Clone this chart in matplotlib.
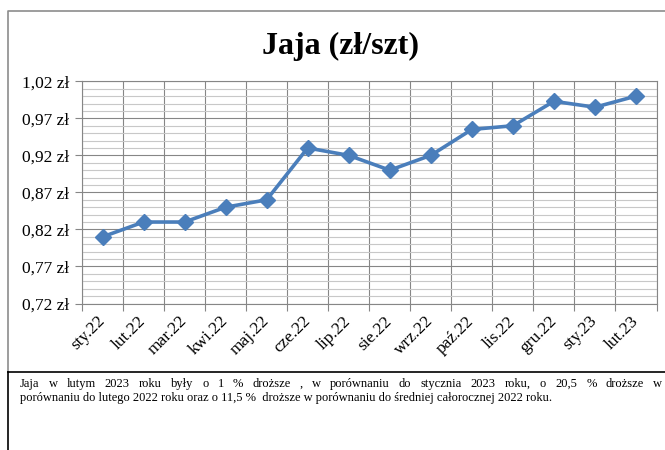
import matplotlib
matplotlib.use("Agg")
import matplotlib.pyplot as plt
from matplotlib.lines import Line2D
from matplotlib.ticker import MultipleLocator, FixedLocator, FuncFormatter

# Data
months = ['sty.22', 'lut.22', 'mar.22', 'kwi.22', 'maj.22', 'cze.22', 'lip.22',
          'sie.22', 'wrz.22', 'paź.22', 'lis.22', 'gru.22', 'sty.23', 'lut.23']
prices = [0.81, 0.83, 0.83, 0.85, 0.86, 0.93, 0.92,
          0.90, 0.92, 0.955, 0.96, 0.993, 0.985, 1.00]
y_ticks = [0.72, 0.77, 0.82, 0.87, 0.92, 0.97, 1.02]

title = 'Jaja (zł/szt)'
note_line1 = ('Jaja w lutym 2023 roku były o 1 % droższe , w porównaniu do stycznia '
              '2023 roku, o 20,5 % droższe w')
note_line2 = ('porównaniu do lutego 2022 roku oraz o 11,5 %  droższe w porównaniu do '
              'średniej całorocznej 2022 roku.')

W, H = 665, 450
plt.rcParams['font.family'] = 'Liberation Serif'

fig = plt.figure(figsize=(W / 100, H / 100), dpi=100)


def fx(px):
    return px / W


def fy(py):
    return 1 - py / H


# plot area
ax = fig.add_axes([fx(82), fy(303.5), fx(656.5) - fx(82), fy(81.3) - fy(303.5)])
x = range(len(months))
ax.plot(x, prices, color='#4A7EBB', lw=2.6, marker='D', ms=8,
        markerfacecolor='#4A7EBB', markeredgecolor='#4A7EBB', zorder=3)

ax.set_xlim(-0.5, len(months) - 0.5)
ax.set_ylim(0.72, 1.02)

# y axis: major every 0.05, light minor every 0.01
ax.yaxis.set_major_locator(FixedLocator(y_ticks))
ax.yaxis.set_minor_locator(MultipleLocator(0.01))
ax.yaxis.set_major_formatter(FuncFormatter(lambda v, p: f'{v:.2f} zł'.replace('.', ',')))
ax.tick_params(axis='y', which='major', length=5, width=0.8, color='#868686',
               pad=4, labelsize=12.5)
ax.tick_params(axis='y', which='minor', length=0)

# x axis: labels at centres, tick marks at category boundaries
ax.set_xticks(list(x))
ax.set_xticklabels(months, rotation=45, ha='right', va='center',
                   rotation_mode='anchor', fontsize=12.5)
ax.xaxis.set_minor_locator(MultipleLocator(1, offset=0.5))
ax.tick_params(axis='x', which='major', length=0, pad=11)
ax.tick_params(axis='x', which='minor', length=5, width=0.8, color='#868686')

ax.grid(True, which='minor', axis='y', color='#C8C8C8', lw=0.8)
ax.grid(True, which='major', axis='y', color='#868686', lw=0.8)
ax.grid(True, which='minor', axis='x', color='#868686', lw=0.8)
ax.set_axisbelow(True)
for s in ax.spines.values():
    s.set_color('#868686')
    s.set_linewidth(0.8)

fig.text(fx(341), fy(46), title, ha='center', va='center',
         fontsize=23, fontweight='bold')

# chart frame (gray) and the text box below it (black)
fig.add_artist(Line2D([fx(8), fx(8), 1.0], [fy(371.5), fy(11), fy(11)],
                      color='#8C8C8C', lw=1.2))
fig.add_artist(Line2D([fx(8), 1.0], [fy(371.5), fy(371.5)], color='black', lw=1.2))
fig.add_artist(Line2D([fx(8), fx(8)], [fy(371.5), 0], color='black', lw=1.2))

# first note line is justified: place each word, spread the spaces
note_size = 9
left_px, right_px = 20, 662
fig.canvas.draw()
renderer = fig.canvas.get_renderer()
words = note_line1.split(' ')
items = [fig.text(0, fy(384), w, fontsize=note_size, va='center', ha='left')
         for w in words]
widths = [t.get_window_extent(renderer).width for t in items]
gap = (right_px - left_px - sum(widths)) / (len(words) - 1)
pos = left_px
for t, w in zip(items, widths):
    t.set_x(fx(pos))
    pos += w + gap

fig.text(fx(left_px), fy(398.5), note_line2, fontsize=note_size, va='center', ha='left')

fig.savefig('out.png', dpi=100)
